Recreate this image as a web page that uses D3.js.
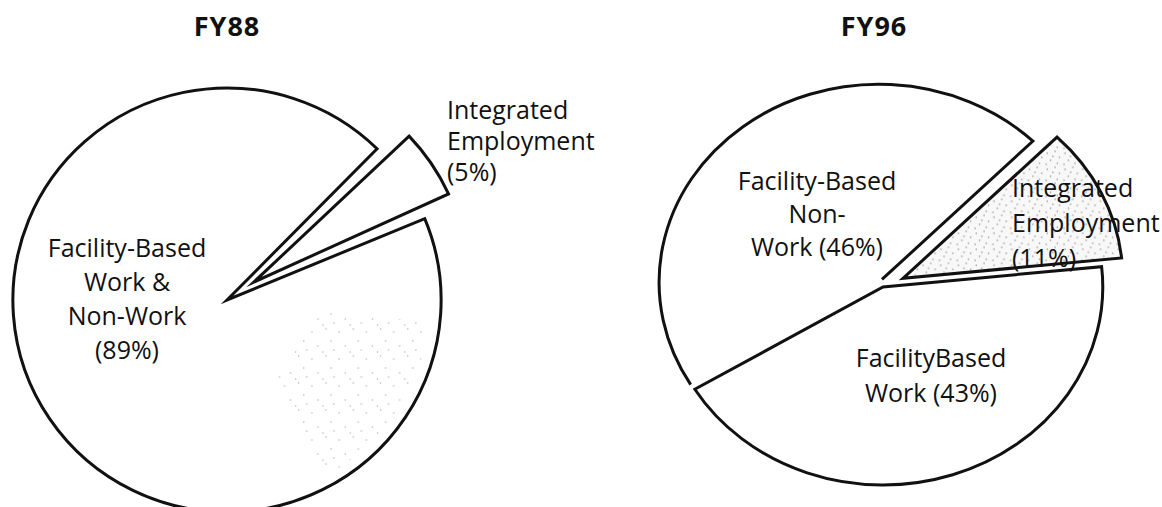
<!DOCTYPE html>
<html>
<head>
<meta charset="utf-8">
<script src="https://cdn.jsdelivr.net/npm/d3@7"></script>
<style>
  body { margin: 0; background: #fff; }
  text { font-family: "Open Sans", sans-serif; fill: #111; }
</style>
</head>
<body>
<div class="canvas"></div>
<script>
const width = 1162;
const height = 507;

// data
const titles = ['FY88', 'FY96'];
const fy88Categories = ['Integrated Employment', 'Facility-Based Work & Non-Work'];
const fy88Values = [5, 89];
const fy88Lines = [['Integrated', 'Employment', '(5%)'], ['Facility-Based', 'Work &', 'Non-Work', '(89%)']];
const fy96Categories = ['Integrated Employment', 'Facility-Based Work', 'Facility-Based Non-Work'];
const fy96Values = [11, 43, 46];
const fy96Lines = [['Integrated', 'Employment', '(11%)'], ['FacilityBased', 'Work (43%)'], ['Facility-Based', 'Non-', 'Work (46%)']];

const svg = d3.select('.canvas').append('svg')
  .attr('width', width)
  .attr('height', height);

// stipple textures (scanned shading)
const defs = svg.append('defs');
const makeStipple = (id, size, bg, pts) => {
  const p = defs.append('pattern')
    .attr('id', id)
    .attr('width', size)
    .attr('height', size)
    .attr('patternUnits', 'userSpaceOnUse');
  if (bg) p.append('rect').attr('width', size).attr('height', size).attr('fill', bg);
  pts.forEach(q => {
    p.append('circle').attr('cx', q[0]).attr('cy', q[1]).attr('r', 0.7).attr('fill', '#8a8a8a');
  });
};
makeStipple('stipple', 16, '#f8f8f8', [[2, 3], [9, 1], [13, 7], [5, 10], [11, 13], [1, 14], [7, 6]]);
makeStipple('speckle', 27, null, [[3, 5], [17, 2], [22, 14], [9, 19], [14, 25], [25, 23]]);

const deg = Math.PI / 180;

// layout per pie (sx = slight horizontal stretch of the scanned original)
const pies = [
  {
    title: titles[0], tx: 227, ty: 36,
    cx: 227, cy: 300, r: 212, sx: 1.01, start: 45.5, pad: 2,
    data: fy88Categories.map((c, i) => ({ name: c, value: fy88Values[i], lines: fy88Lines[i] })),
    offsets: [32, 0], fills: ['#fff', '#fff'], open: [false, false], speckle: 1,
    labels: [
      { x: 447, y: 119, dy: 31, anchor: 'start' },
      { x: 127, y: 257, dy: 34, anchor: 'middle' }
    ]
  },
  {
    title: titles[1], tx: 874, ty: 36,
    cx: 883, cy: 287, r: 198, sx: 1.11, start: 44.5, pad: 0,
    data: fy96Categories.map((c, i) => ({ name: c, value: fy96Values[i], lines: fy96Lines[i] })),
    offsets: [20, 0, 6], fills: ['url(#stipple)', '#fff', '#fff'], open: [false, false, true], speckle: -1,
    labels: [
      { x: 1012, y: 197, dy: 35, anchor: 'start' },
      { x: 931, y: 367, dy: 35, anchor: 'middle' },
      { x: 817, y: 190, dy: 33, anchor: 'middle' }
    ]
  }
];

pies.forEach(cfg => {
  const pie = d3.pie()
    .sort(null)
    .value(d => d.value)
    .padAngle(cfg.pad * deg)
    .startAngle(cfg.start * deg)
    .endAngle(cfg.start * deg + 2 * Math.PI);

  const arc = d3.arc().innerRadius(0).outerRadius(cfg.r);
  const arcs = pie(cfg.data);

  const g = svg.append('g').attr('transform', `translate(${cfg.cx}, ${cfg.cy})`);

  const slices = g.selectAll('g.slice')
    .data(arcs)
    .enter().append('g')
    .attr('class', 'slice')
    .attr('transform', (d, i) => {
      const mid = (d.startAngle + d.endAngle) / 2;
      const off = cfg.offsets[i];
      return `translate(${off * Math.sin(mid) * cfg.sx}, ${-off * Math.cos(mid)}) scale(${cfg.sx}, 1)`;
    });

  slices.append('path')
    .attr('d', arc)
    .attr('fill', (d, i) => cfg.fills[i])
    .attr('stroke', 'none');

  // faint speckled patch inside the large slice
  if (cfg.speckle >= 0) {
    const d = arcs[cfg.speckle];
    slices.filter((s, i) => i === cfg.speckle).append('path')
      .attr('d', d3.arc()
        .innerRadius(cfg.r * 0.4)
        .outerRadius(cfg.r * 0.95)
        .startAngle(d.startAngle + 0.5)
        .endAngle(d.startAngle + 1.5))
      .attr('fill', 'url(#speckle)')
      .attr('opacity', 0.7);
  }

  slices.filter((d, i) => !cfg.open[i]).append('path')
    .attr('d', arc)
    .attr('fill', 'none')
    .attr('stroke', '#111')
    .attr('stroke-width', 3)
    .attr('stroke-linejoin', 'miter')
    .attr('stroke-miterlimit', 12)
    .attr('vector-effect', 'non-scaling-stroke');

  // slice drawn without its first radial edge (as in the original)
  slices.filter((d, i) => cfg.open[i]).append('path')
    .attr('d', d => {
      const p = d3.path();
      const a0 = d.startAngle - Math.PI / 2;
      const a1 = d.endAngle - Math.PI / 2;
      p.moveTo(cfg.r * Math.cos(a0), cfg.r * Math.sin(a0));
      p.arc(0, 0, cfg.r, a0, a1);
      p.lineTo(4 * Math.cos(a1), 4 * Math.sin(a1));
      return p.toString();
    })
    .attr('fill', 'none')
    .attr('stroke', '#111')
    .attr('stroke-width', 3)
    .attr('vector-effect', 'non-scaling-stroke');

  // labels
  cfg.data.forEach((d, i) => {
    const pos = cfg.labels[i];
    const t = svg.append('text')
      .attr('text-anchor', pos.anchor)
      .attr('font-size', 25);
    d.lines.forEach((line, j) => {
      t.append('tspan')
        .attr('x', pos.x)
        .attr('y', pos.y + j * pos.dy)
        .text(line);
    });
  });

  svg.append('text')
    .attr('x', cfg.tx)
    .attr('y', cfg.ty)
    .attr('text-anchor', 'middle')
    .attr('font-size', 27)
    .attr('font-weight', 'bold')
    .attr('letter-spacing', 1)
    .text(cfg.title);
});
</script>
</body>
</html>
